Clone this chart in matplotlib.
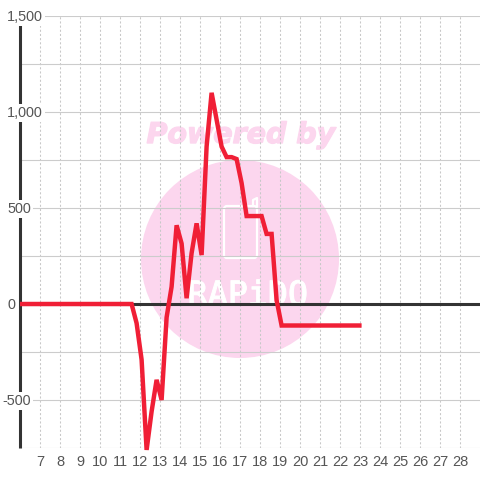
# Hourly line chart with watermark

import matplotlib
matplotlib.use('Agg')
import matplotlib.pyplot as plt
import matplotlib.patheffects as pe
from matplotlib.patches import Circle, FancyBboxPatch
from matplotlib.transforms import ScaledTranslation

hours = [6, 11.58, 11.83, 12.08, 12.33, 12.58, 12.83, 13.08, 13.33, 13.58, 13.83, 14.08,
         14.33, 14.58, 14.83, 15.08, 15.33, 15.58, 15.83, 16.08, 16.33, 16.58, 16.83,
         17.08, 17.33, 17.58, 17.83, 18.08, 18.33, 18.58, 18.83, 19.08, 19.33, 23.08]
values = [0, 0, -100, -290, -760, -560, -395, -500, -70, 90, 410, 315,
          30, 265, 420, 255, 820, 1100, 960, 820, 765, 765, 755,
          630, 458, 458, 458, 458, 365, 365, 20, -112, -112, -112]

x_ticks = [7, 8, 9, 10, 11, 12, 13, 14, 15, 16, 17, 18, 19, 20, 21, 22, 23,
           24, 25, 26, 27, 28]
y_major = [-500, 0, 500, 1000, 1500]
y_minor = [-750, -250, 250, 750, 1250]

PINK = '#fcd6ee'
DARK = '#333333'
GREY = '#555555'

plt.rcParams['font.family'] = ['Liberation Sans', 'DejaVu Sans']

fig = plt.figure(figsize=(4.8, 4.8), dpi=100)

# watermark sits behind the chart, in pixel coordinates
bg = fig.add_axes([0, 0, 1, 1], zorder=0)
bg.set_xlim(0, 480)
bg.set_ylim(480, 0)
bg.axis('off')
bg.add_patch(Circle((240, 259), 99, color=PINK, lw=0))
bg.text(241, 135, 'Powered by', color=PINK, fontsize=20.5, weight='bold',
        style='oblique', family='DejaVu Sans', ha='center', va='center',
        path_effects=[pe.withStroke(linewidth=1, foreground=PINK)])
bg.add_patch(FancyBboxPatch((224, 206), 33, 52, boxstyle='round,pad=0,rounding_size=3',
                            fc='none', ec='white', lw=1.6))
bg.plot([253, 253, 257, 257], [206, 200, 198, 206], color='white', lw=1.6)
bg.text(248, 305, 'RAPiDO', color='white', fontsize=24, family='DejaVu Sans Mono',
        ha='center', va='baseline',
        path_effects=[pe.withStroke(linewidth=0.8, foreground='white')])

ax = fig.add_axes([20 / 480, 32 / 480, 460 / 480, 432 / 480], zorder=1)
ax.patch.set_alpha(0)
ax.set_xlim(6, 29)
ax.set_ylim(-750, 1500)

ax.set_axisbelow(True)
ax.set_xticks(x_ticks)
ax.set_yticks(y_major)
ax.set_yticks(y_minor, minor=True)
ax.yaxis.grid(True, which='both', color='#cccccc', lw=0.8)
ax.xaxis.grid(True, color='#c8c8c8', lw=0.75, ls=(0, (2, 2)))

for s in ['top', 'right', 'bottom']:
    ax.spines[s].set_visible(False)
ax.spines['left'].set_linewidth(2.2)
ax.spines['left'].set_color(DARK)
ax.spines['left'].set_capstyle('butt')

ax.tick_params(axis='both', which='both', length=0)
ax.tick_params(axis='x', labelsize=10.5, labelcolor=GREY, pad=5)
ax.tick_params(axis='y', labelleft=False)

ax.axhline(0, color=DARK, lw=2.2, zorder=2)

# value labels sit on top of the axis line with a white backing
label_pos = ax.get_yaxis_transform() + ScaledTranslation(-13 / 100, -1 / 100, fig.dpi_scale_trans)
for v in y_major:
    # minus sign hangs left of the digits
    dx = -5 / 100 if v < 0 else 0
    ax.text(0, v, f'{v:,}', ha='left', va='center', fontsize=10.4, color=GREY, zorder=3,
            transform=label_pos + ScaledTranslation(dx, 0, fig.dpi_scale_trans),
            bbox=dict(fc='white', ec='none', pad=1.5))

ax.plot(hours, values, color='#f01f36', lw=3.2, clip_on=False, zorder=4,
        solid_joinstyle='miter', solid_capstyle='butt')

fig.savefig('out.png', dpi=100)
